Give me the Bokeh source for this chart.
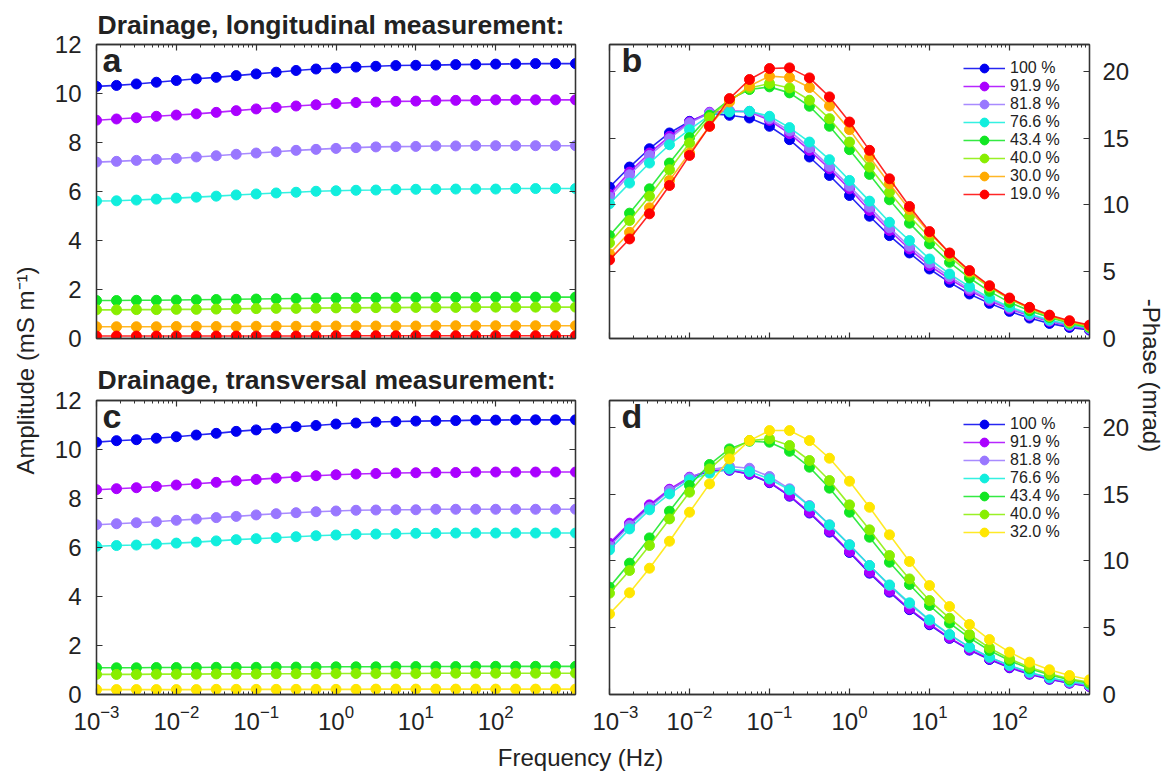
from bokeh.plotting import figure
from bokeh.models import (LinearAxis, LogAxis, FixedTicker, Range1d, Label, Legend,
                          LegendItem, CustomJSTickFormatter, LogTickFormatter, LogScale)
from bokeh.layouts import row, column
from bokeh.embed import file_html
from bokeh.resources import INLINE

FONT = "Liberation Sans"
TXT = "#222222"
AX = "#333333"

# ---------------- data ----------------
freq = [0.001, 0.00178, 0.00316, 0.00562, 0.01, 0.0178, 0.0316, 0.0562, 0.1, 0.178,
        0.316, 0.562, 1.0, 1.78, 3.16, 5.62, 10.0, 17.8, 31.6, 56.2, 100.0, 178.0,
        316.0, 562.0, 1000.0]

x_major = [0.001, 0.01, 0.1, 1.0, 10.0, 100.0]
x_minor = [0.002, 0.003, 0.004, 0.005, 0.006, 0.007, 0.008, 0.009,
           0.02, 0.03, 0.04, 0.05, 0.06, 0.07, 0.08, 0.09,
           0.2, 0.3, 0.4, 0.5, 0.6, 0.7, 0.8, 0.9,
           2, 3, 4, 5, 6, 7, 8, 9,
           20, 30, 40, 50, 60, 70, 80, 90,
           200, 300, 400, 500, 600, 700, 800, 900]
amp_ticks = [0, 2, 4, 6, 8, 10, 12]
phase_ticks = [0, 5, 10, 15, 20]

labels_long = ["100 %", "91.9 %", "81.8 %", "76.6 %", "43.4 %", "40.0 %", "30.0 %", "19.0 %"]
colors_long = ["#0000f0", "#aa00ff", "#9977ff", "#11eedd", "#11e622", "#88ee00", "#ffaa00", "#ff0000"]
labels_trans = ["100 %", "91.9 %", "81.8 %", "76.6 %", "43.4 %", "40.0 %", "32.0 %"]
colors_trans = ["#0000f0", "#aa00ff", "#9977ff", "#11eedd", "#11e622", "#88ee00", "#ffe600"]

# panel a: amplitude, longitudinal
amp_long_100 = [10.29, 10.33, 10.39, 10.46, 10.53, 10.60, 10.66, 10.73, 10.80, 10.87, 10.94, 11.00, 11.04,
                11.08, 11.11, 11.14, 11.15, 11.16, 11.18, 11.19, 11.20, 11.21, 11.22, 11.22, 11.22]
amp_long_919 = [8.91, 8.96, 9.01, 9.07, 9.12, 9.17, 9.23, 9.30, 9.37, 9.43, 9.49, 9.54, 9.59,
                9.63, 9.65, 9.68, 9.69, 9.71, 9.72, 9.72, 9.74, 9.74, 9.74, 9.74, 9.74]
amp_long_818 = [7.20, 7.23, 7.27, 7.31, 7.35, 7.41, 7.46, 7.52, 7.57, 7.62, 7.68, 7.72, 7.76,
                7.79, 7.82, 7.83, 7.84, 7.86, 7.86, 7.87, 7.87, 7.87, 7.87, 7.87, 7.87]
amp_long_766 = [5.61, 5.62, 5.65, 5.69, 5.73, 5.77, 5.81, 5.86, 5.90, 5.94, 5.97, 6.01, 6.03,
                6.05, 6.06, 6.08, 6.09, 6.09, 6.10, 6.10, 6.10, 6.12, 6.12, 6.12, 6.12]
amp_long_434 = [1.55, 1.55, 1.56, 1.56, 1.57, 1.58, 1.59, 1.60, 1.61, 1.62, 1.63, 1.64, 1.65,
                1.66, 1.66, 1.67, 1.67, 1.68, 1.68, 1.68, 1.69, 1.69, 1.69, 1.69, 1.69]
amp_long_400 = [1.17, 1.17, 1.18, 1.18, 1.19, 1.19, 1.20, 1.21, 1.22, 1.23, 1.23, 1.24, 1.25,
                1.25, 1.26, 1.26, 1.27, 1.27, 1.27, 1.28, 1.28, 1.28, 1.28, 1.28, 1.28]
amp_long_300 = [0.48, 0.48, 0.48, 0.48, 0.49, 0.49, 0.49, 0.49, 0.50, 0.50, 0.50, 0.50, 0.51,
                0.51, 0.51, 0.51, 0.51, 0.52, 0.52, 0.52, 0.52, 0.52, 0.52, 0.52, 0.52]
amp_long_190 = [0.10, 0.10, 0.10, 0.10, 0.10, 0.10, 0.10, 0.10, 0.10, 0.10, 0.10, 0.10, 0.11,
                0.11, 0.11, 0.11, 0.11, 0.11, 0.11, 0.11, 0.11, 0.11, 0.11, 0.11, 0.11]

# panel b: phase, longitudinal
phase_long_100 = [11.33, 12.83, 14.20, 15.38, 16.25, 16.83, 16.70, 16.50, 15.88, 14.88, 13.58, 12.20, 10.70,
                  9.15, 7.70, 6.40, 5.20, 4.20, 3.33, 2.63, 2.03, 1.53, 1.13, 0.83, 0.63]
phase_long_919 = [10.78, 12.45, 13.88, 15.13, 16.20, 16.93, 17.03, 16.95, 16.33, 15.33, 14.08, 12.70, 11.20,
                  9.58, 8.08, 6.70, 5.45, 4.45, 3.58, 2.83, 2.20, 1.70, 1.28, 0.95, 0.70]
phase_long_818 = [10.58, 12.25, 13.70, 14.95, 16.13, 16.88, 17.00, 17.00, 16.45, 15.53, 14.28, 12.88, 11.40,
                  9.83, 8.28, 6.90, 5.65, 4.63, 3.70, 2.93, 2.28, 1.75, 1.33, 1.00, 0.75]
phase_long_766 = [10.08, 11.63, 13.13, 14.50, 15.63, 16.70, 16.95, 17.00, 16.63, 15.78, 14.70, 13.38, 11.83,
                  10.28, 8.70, 7.33, 5.95, 4.83, 3.88, 3.03, 2.38, 1.83, 1.38, 1.05, 0.78]
phase_long_434 = [7.70, 9.38, 11.20, 13.13, 15.03, 16.70, 17.88, 18.63, 18.83, 18.38, 17.38, 15.88, 14.13,
                  12.28, 10.38, 8.63, 7.08, 5.70, 4.53, 3.53, 2.70, 2.08, 1.58, 1.15, 0.83]
phase_long_400 = [7.15, 8.83, 10.65, 12.63, 14.63, 16.53, 17.83, 18.75, 19.08, 18.75, 17.83, 16.45, 14.70,
                  12.83, 10.95, 9.15, 7.58, 6.13, 4.90, 3.83, 2.95, 2.25, 1.65, 1.20, 0.88]
phase_long_300 = [6.33, 7.95, 9.78, 11.83, 13.88, 15.88, 17.70, 18.90, 19.63, 19.53, 18.78, 17.40, 15.63,
                  13.58, 11.58, 9.65, 7.90, 6.38, 5.00, 3.90, 2.98, 2.28, 1.70, 1.28, 0.95]
phase_long_190 = [5.88, 7.45, 9.33, 11.45, 13.70, 15.88, 17.95, 19.38, 20.20, 20.25, 19.50, 18.08, 16.20,
                  14.08, 11.95, 9.88, 8.00, 6.40, 5.08, 3.95, 3.03, 2.33, 1.75, 1.33, 1.00]

# panel c: amplitude, transversal
amp_trans_100 = [10.30, 10.36, 10.40, 10.46, 10.52, 10.59, 10.66, 10.74, 10.80, 10.87, 10.93, 10.98, 11.04,
                 11.08, 11.12, 11.14, 11.16, 11.17, 11.18, 11.20, 11.20, 11.21, 11.21, 11.21, 11.21]
amp_trans_919 = [8.36, 8.40, 8.44, 8.49, 8.55, 8.60, 8.66, 8.72, 8.78, 8.83, 8.89, 8.93, 8.97,
                 9.00, 9.02, 9.04, 9.05, 9.06, 9.06, 9.08, 9.08, 9.08, 9.08, 9.08, 9.08]
amp_trans_818 = [6.93, 6.97, 7.01, 7.05, 7.11, 7.16, 7.22, 7.27, 7.33, 7.38, 7.42, 7.46, 7.49,
                 7.52, 7.53, 7.54, 7.54, 7.56, 7.56, 7.56, 7.56, 7.56, 7.56, 7.56, 7.56]
amp_trans_766 = [6.05, 6.08, 6.10, 6.14, 6.18, 6.22, 6.27, 6.32, 6.36, 6.40, 6.44, 6.48, 6.51,
                 6.54, 6.55, 6.56, 6.58, 6.58, 6.59, 6.59, 6.59, 6.59, 6.59, 6.59, 6.59]
amp_trans_434 = [1.09, 1.09, 1.09, 1.10, 1.10, 1.10, 1.11, 1.11, 1.11, 1.12, 1.12, 1.12, 1.13,
                 1.13, 1.13, 1.14, 1.14, 1.14, 1.14, 1.15, 1.15, 1.15, 1.15, 1.15, 1.15]
amp_trans_400 = [0.82, 0.82, 0.82, 0.83, 0.83, 0.83, 0.84, 0.84, 0.84, 0.85, 0.85, 0.85, 0.86,
                 0.86, 0.86, 0.86, 0.86, 0.87, 0.87, 0.87, 0.87, 0.87, 0.87, 0.87, 0.87]
amp_trans_320 = [0.20, 0.20, 0.20, 0.20, 0.20, 0.20, 0.21, 0.21, 0.21, 0.21, 0.21, 0.21, 0.21,
                 0.21, 0.22, 0.22, 0.22, 0.22, 0.22, 0.22, 0.22, 0.22, 0.22, 0.22, 0.22]

# panel d: phase, transversal
phase_trans_100 = [11.22, 12.75, 14.12, 15.30, 16.20, 16.72, 16.78, 16.48, 15.85, 14.84, 13.58, 12.15, 10.63,
                   9.08, 7.66, 6.35, 5.22, 4.20, 3.32, 2.62, 2.00, 1.52, 1.14, 0.85, 0.60]
phase_trans_919 = [11.32, 12.82, 14.19, 15.36, 16.26, 16.76, 16.81, 16.51, 15.89, 14.89, 13.64, 12.22, 10.70,
                   9.15, 7.73, 6.41, 5.29, 4.24, 3.37, 2.67, 2.04, 1.55, 1.17, 0.87, 0.62]
phase_trans_818 = [11.07, 12.64, 14.01, 15.26, 16.21, 16.81, 17.06, 16.93, 16.31, 15.39, 14.14, 12.69, 11.20,
                   9.65, 8.15, 6.78, 5.54, 4.46, 3.54, 2.79, 2.17, 1.62, 1.25, 0.92, 0.67]
phase_trans_766 = [10.82, 12.39, 13.82, 15.01, 16.06, 16.56, 16.88, 16.68, 16.13, 15.31, 14.09, 12.69, 11.20,
                   9.65, 8.20, 6.86, 5.59, 4.49, 3.54, 2.79, 2.17, 1.67, 1.25, 0.97, 0.75]
phase_trans_434 = [8.03, 9.83, 11.72, 13.72, 15.64, 17.21, 18.38, 18.95, 18.88, 18.20, 17.01, 15.44, 13.64,
                   11.77, 9.90, 8.23, 6.66, 5.34, 4.24, 3.29, 2.54, 1.92, 1.47, 1.10, 0.85]
phase_trans_400 = [7.58, 9.28, 11.15, 13.14, 15.14, 16.88, 18.20, 19.00, 19.13, 18.63, 17.51, 16.01, 14.19,
                   12.32, 10.40, 8.65, 7.03, 5.71, 4.49, 3.49, 2.67, 2.04, 1.55, 1.17, 0.92]
phase_trans_320 = [6.03, 7.61, 9.45, 11.47, 13.64, 15.76, 17.63, 19.00, 19.75, 19.75, 19.00, 17.68, 15.96,
                   14.01, 11.95, 9.95, 8.15, 6.58, 5.24, 4.11, 3.17, 2.42, 1.85, 1.42, 1.10]

series_a = [amp_long_100, amp_long_919, amp_long_818, amp_long_766, amp_long_434, amp_long_400,
            amp_long_300, amp_long_190]
series_b = [phase_long_100, phase_long_919, phase_long_818, phase_long_766, phase_long_434,
            phase_long_400, phase_long_300, phase_long_190]
series_c = [amp_trans_100, amp_trans_919, amp_trans_818, amp_trans_766, amp_trans_434, amp_trans_400,
            amp_trans_320]
series_d = [phase_trans_100, phase_trans_919, phase_trans_818, phase_trans_766, phase_trans_434,
            phase_trans_400, phase_trans_320]

# ---------------- layout sizes ----------------
FRAME_W_L, FRAME_W_R, FRAME_H = 479, 480, 294
TOP_H, BOT_H = 352, 390
L_W, R_W = 50, 42
BOTTOM_H = 780 - TOP_H - BOT_H
LEG_STEP = 18


def style_axis(ax, labels):
    ax.axis_line_color = AX
    ax.axis_line_width = 1.3
    ax.major_tick_line_color = AX
    ax.minor_tick_line_color = AX
    ax.major_tick_line_width = 1.2
    ax.minor_tick_line_width = 1.0
    ax.major_tick_in = 6
    ax.major_tick_out = 0
    ax.minor_tick_in = 3
    ax.minor_tick_out = 0
    ax.axis_label = None
    if labels:
        ax.major_label_text_font = FONT
        ax.major_label_text_font_size = "24px"
        ax.major_label_text_color = TXT
    else:
        ax.formatter = CustomJSTickFormatter(code="return ''")
        ax.major_label_text_font_size = "0px"
        ax.major_label_standoff = 0


def panel(series, colors, ymax, yticks, left_side, top_row, letter, title=None, legend_labels=None):
    if left_side:
        bl, br, w = 46, 17, 46 + FRAME_W_L + 17
    else:
        bl, br, w = 17, 45, 17 + FRAME_W_R + 45
    if top_row:
        bt, bb, h = 44, TOP_H - 44 - FRAME_H, TOP_H
    else:
        bt, bb, h = 48, BOT_H - 48 - FRAME_H, BOT_H
    p = figure(width=w, height=h, x_axis_type=None, y_axis_type=None,
               x_range=Range1d(1e-3, 1e3), y_range=Range1d(0, ymax),
               output_backend="svg", toolbar_location=None,
               min_border_left=bl, min_border_right=br, min_border_top=bt, min_border_bottom=bb)
    p.x_scale = LogScale()
    p.outline_line_color = AX
    p.outline_line_width = 1.3
    p.background_fill_color = "white"
    p.border_fill_color = "white"

    xb = LogAxis(ticker=FixedTicker(ticks=x_major, minor_ticks=x_minor))
    style_axis(xb, not top_row)
    if not top_row:
        xb.formatter = LogTickFormatter()
        xb.major_label_standoff = 10
    xt = LogAxis(ticker=FixedTicker(ticks=x_major, minor_ticks=x_minor))
    style_axis(xt, False)
    p.add_layout(xb, "below")
    p.add_layout(xt, "above")

    yl = LinearAxis(ticker=FixedTicker(ticks=yticks))
    yr = LinearAxis(ticker=FixedTicker(ticks=yticks))
    style_axis(yl, left_side)
    style_axis(yr, not left_side)
    if left_side:
        yl.major_label_standoff = 15
    else:
        yr.major_label_standoff = 13
    p.add_layout(yl, "left")
    p.add_layout(yr, "right")

    for i, (ys, col) in enumerate(zip(series, colors)):
        r1 = p.line(freq, ys, line_color=col, line_width=1.6, line_alpha=0.85)
        r2 = p.scatter(freq, ys, size=10, marker="circle", fill_color=col, line_color=col)
        if legend_labels is not None:
            # one single-entry legend per series, stacked LEG_STEP px apart
            item_center_from_top = 24 + LEG_STEP * i
            leg = Legend(items=[LegendItem(label=legend_labels[i], renderers=[r1, r2])],
                         location=(354, FRAME_H - item_center_from_top - 11),
                         glyph_width=42, glyph_height=22, label_height=22, spacing=0,
                         padding=0, margin=0, label_standoff=5,
                         label_text_font=FONT, label_text_font_size="16px", label_text_color=TXT,
                         border_line_color=None, background_fill_alpha=0)
            p.add_layout(leg)

    p.add_layout(Label(x=6 if left_side else 12, y=FRAME_H - 15, x_units="screen", y_units="screen",
                       text=letter, text_font=FONT, text_font_style="bold", text_font_size="34px",
                       text_color=TXT, text_baseline="alphabetic"))

    if title:
        p.title.text = title
        p.title.align = "left"
        p.title.text_font = FONT
        p.title.text_font_size = "26.5px"
        p.title.text_font_style = "bold"
        p.title.text_color = TXT
        p.title.standoff = 9 if top_row else 12
        p.title.offset = 1
    return p


pa = panel(series_a, colors_long, 12, amp_ticks, True, True, "a", "Drainage, longitudinal measurement:")
pb = panel(series_b, colors_long, 22, phase_ticks, False, True, "b", legend_labels=labels_long)
pc = panel(series_c, colors_trans, 12, amp_ticks, True, False, "c", "Drainage, transversal measurement:")
pd = panel(series_d, colors_trans, 22, phase_ticks, False, False, "d", legend_labels=labels_trans)


def text_fig(w, h):
    f = figure(width=w, height=h, x_axis_type=None, y_axis_type=None, output_backend="svg",
               toolbar_location=None, min_border=0, x_range=Range1d(0, 1), y_range=Range1d(0, 1))
    f.outline_line_color = None
    f.xgrid.visible = False
    f.ygrid.visible = False
    return f


main_h = TOP_H + BOT_H
fl = text_fig(L_W, main_h)
fl.add_layout(Label(x=25, y=main_h - 370, x_units="screen", y_units="screen", angle=1.5708,
                    text="Amplitude (mS m\u207b\u00b9)", text_font=FONT, text_font_size="24px",
                    text_color=TXT, text_align="center", text_baseline="middle"))
fr = text_fig(R_W, main_h)
fr.add_layout(Label(x=17, y=main_h - 375, x_units="screen", y_units="screen", angle=-1.5708,
                    text="-Phase (mrad)", text_font=FONT, text_font_size="24px",
                    text_color=TXT, text_align="center", text_baseline="middle"))
fb = text_fig(1176, BOTTOM_H)
fb.add_layout(Label(x=580, y=BOTTOM_H - 15, x_units="screen", y_units="screen",
                    text="Frequency (Hz)", text_font=FONT, text_font_size="24px",
                    text_color=TXT, text_align="center", text_baseline="middle"))

layout = column(row(fl, column(row(pa, pb), row(pc, pd)), fr), fb)

with open("out.html", "w") as f:
    f.write(file_html(layout, INLINE))
